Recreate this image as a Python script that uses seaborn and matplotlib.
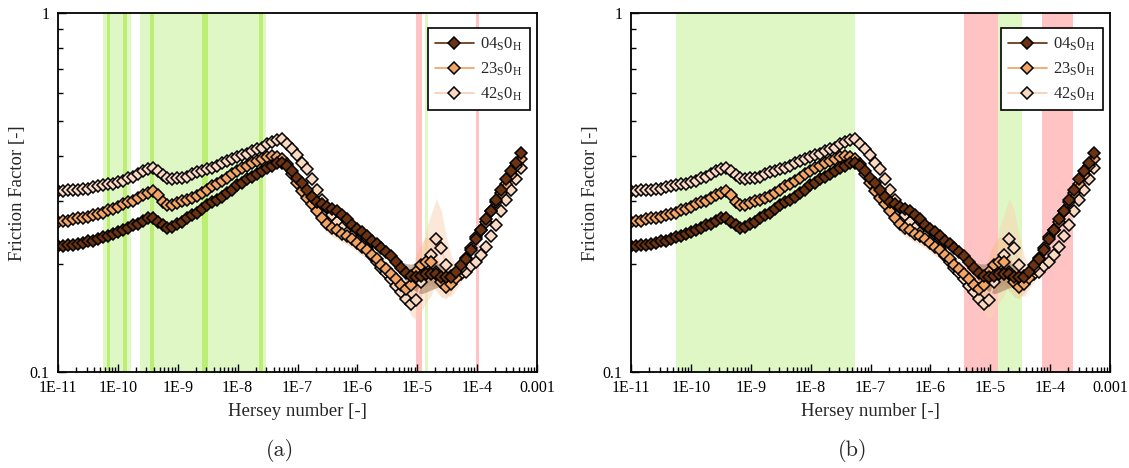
import numpy as np
import matplotlib
matplotlib.use("Agg")
import matplotlib.pyplot as plt
from matplotlib.ticker import FixedLocator, FixedFormatter, LogLocator, NullFormatter
import seaborn as sns

# Hersey number grid (log-spaced measurement points)
hersey = np.logspace(-11, -3.27, 94)

# Friction factor per sample
ff_04 = [0.225, 0.225, 0.226, 0.226, 0.228, 0.229, 0.231, 0.232, 0.235, 0.237,
         0.240, 0.243, 0.246, 0.249, 0.252, 0.256, 0.259, 0.264, 0.268, 0.268,
         0.262, 0.256, 0.252, 0.254, 0.259, 0.262, 0.268, 0.273, 0.278, 0.284,
         0.291, 0.297, 0.302, 0.308, 0.316, 0.322, 0.331, 0.337, 0.344, 0.350,
         0.357, 0.364, 0.371, 0.376, 0.381, 0.383, 0.374, 0.362, 0.348, 0.337,
         0.322, 0.308, 0.297, 0.293, 0.289, 0.284, 0.280, 0.273, 0.266, 0.256,
         0.251, 0.246, 0.239, 0.232, 0.228, 0.222, 0.216, 0.210, 0.202, 0.195,
         0.189, 0.185, 0.184, 0.185, 0.187, 0.188, 0.187, 0.184, 0.184, 0.184,
         0.190, 0.198, 0.207, 0.218, 0.234, 0.249, 0.266, 0.280, 0.302, 0.322,
         0.344, 0.362, 0.383, 0.407]

ff_23 = [0.262, 0.264, 0.264, 0.266, 0.268, 0.269, 0.271, 0.273, 0.276, 0.278,
         0.282, 0.285, 0.289, 0.293, 0.297, 0.300, 0.306, 0.312, 0.316, 0.320,
         0.312, 0.297, 0.291, 0.291, 0.295, 0.299, 0.302, 0.306, 0.310, 0.316,
         0.322, 0.329, 0.335, 0.341, 0.348, 0.355, 0.362, 0.369, 0.374, 0.381,
         0.386, 0.391, 0.396, 0.399, 0.396, 0.391, 0.379, 0.355, 0.337, 0.320,
         0.306, 0.293, 0.280, 0.268, 0.259, 0.252, 0.248, 0.243, 0.239, 0.234,
         0.229, 0.223, 0.219, 0.212, 0.206, 0.199, 0.193, 0.187, 0.181, 0.175,
         0.170, 0.175, 0.190, 0.199, 0.203, 0.203, 0.190, 0.178, 0.173, 0.176,
         0.183, 0.195, 0.208, 0.222, 0.237, 0.249, 0.262, 0.280, 0.297, 0.316,
         0.333, 0.353, 0.374, 0.391]

ff_42 = [0.320, 0.320, 0.322, 0.322, 0.322, 0.324, 0.324, 0.327, 0.329, 0.331,
         0.333, 0.335, 0.339, 0.341, 0.346, 0.350, 0.355, 0.362, 0.367, 0.371,
         0.364, 0.353, 0.346, 0.344, 0.346, 0.348, 0.350, 0.355, 0.360, 0.362,
         0.367, 0.371, 0.376, 0.381, 0.386, 0.391, 0.396, 0.401, 0.406, 0.412,
         0.417, 0.422, 0.431, 0.436, 0.442, 0.445, 0.431, 0.417, 0.401, 0.383,
         0.367, 0.344, 0.322, 0.302, 0.287, 0.273, 0.262, 0.252, 0.244, 0.239,
         0.232, 0.226, 0.221, 0.211, 0.202, 0.195, 0.189, 0.182, 0.174, 0.167,
         0.160, 0.155, 0.159, 0.178, 0.199, 0.212, 0.234, 0.222, 0.198, 0.185,
         0.184, 0.187, 0.190, 0.197, 0.203, 0.212, 0.223, 0.239, 0.257, 0.280,
         0.302, 0.322, 0.344, 0.371]

# Multiplicative spread of the repeat measurements (band = value / s .. value * s)
spread_04 = ([1.032] * 19 + [1.020] * 27 + [1.026] * 23 +
             [1.04, 1.06, 1.08, 1.10, 1.12, 1.12, 1.11, 1.09, 1.06, 1.04] +
             [1.020] * 15)
spread_23 = ([1.020] * 46 + [1.055] * 23 +
             [1.05, 1.06, 1.08, 1.12, 1.15, 1.17, 1.16, 1.13, 1.10, 1.08, 1.06] +
             [1.030] * 14)
spread_42 = ([1.015] * 46 + [1.030] * 23 +
             [1.04, 1.05, 1.08, 1.14, 1.21, 1.27, 1.30, 1.30, 1.27, 1.21, 1.14, 1.08, 1.05] +
             [1.020] * 12)

# Highlighted Hersey ranges
spans_a_green = [(5.6e-11, 1.65e-10), (2.33e-10, 2.93e-8), (1.36e-5, 1.52e-5)]
spans_a_green_dark = [(6.6e-11, 7.4e-11), (1.21e-10, 1.41e-10), (3.41e-10, 3.98e-10),
                      (2.51e-9, 3.16e-9), (2.24e-8, 2.61e-8)]
spans_a_red = [(9.6e-6, 1.21e-5), (9.6e-5, 1.08e-4)]
spans_b_green = [(5.6e-11, 5.6e-8), (1.36e-5, 3.4e-5)]
spans_b_red = [(3.7e-6, 1.36e-5), (7.4e-5, 2.4e-4)]

x_ticks = [1e-11, 1e-10, 1e-9, 1e-8, 1e-7, 1e-6, 1e-5, 1e-4, 1e-3]
x_tick_labels = ["1E-11", "1E-10", "1E-9", "1E-8", "1E-7", "1E-6", "1E-5", "1E-4", "0.001"]
y_ticks = [0.1, 1.0]
y_tick_labels = ["0.1", "1"]

series = [
    (r"04$_{\rm S}$0$_{\rm H}$", ff_04, spread_04, "#6b3311", "#5c2c0e", "#8a6040", 0.45),
    (r"23$_{\rm S}$0$_{\rm H}$", ff_23, spread_23, "#f2a465", "#f0a060", "#f7b27a", 0.35),
    (r"42$_{\rm S}$0$_{\rm H}$", ff_42, spread_42, "#fbd9c0", "#f9cdb2", "#fbd3b4", 0.5),
]

sns.set_theme(style="white")
plt.rcParams["font.family"] = ["Liberation Serif", "DejaVu Serif"]
plt.rcParams["mathtext.fontset"] = "custom"
plt.rcParams["mathtext.rm"] = "Liberation Serif"
plt.rcParams["mathtext.it"] = "Liberation Serif:italic"

fig = plt.figure(figsize=(11.29, 4.68), dpi=100)
ax_a = fig.add_axes([58 / 1129, 96 / 468, 479 / 1129, 359 / 468])
ax_b = fig.add_axes([631 / 1129, 96 / 468, 479 / 1129, 359 / 468])

GREEN = "#dff7c4"
GREEN_DARK = "#bdee74"
RED = "#ffc3c3"


def draw_panel(ax, green, green_dark, red):
    for lo, hi in green:
        ax.axvspan(lo, hi, color=GREEN, lw=0, zorder=0)
    for lo, hi in green_dark:
        ax.axvspan(lo, hi, color=GREEN_DARK, lw=0, zorder=0.5)
    for lo, hi in red:
        ax.axvspan(lo, hi, color=RED, lw=0, zorder=0)

    x = hersey
    for lab, vals, spr, face, line, band, alpha in reversed(series):
        v = np.asarray(vals)
        s = np.asarray(spr)
        ax.fill_between(x, v / s, v * s, color=band, alpha=alpha, lw=0, zorder=1)
    for k, (lab, vals, spr, face, line, band, alpha) in enumerate(reversed(series)):
        sns.lineplot(x=x, y=vals, ax=ax, color=line, lw=1.2, marker="D",
                     markersize=6.0, markerfacecolor=face, markeredgecolor="black",
                     markeredgewidth=1.1, label=lab, zorder=3 + k, sort=False)

    ax.set_xscale("log")
    ax.set_yscale("log")
    ax.set_xlim(1e-11, 1e-3)
    ax.set_ylim(0.1, 1.0)

    ax.xaxis.set_major_locator(FixedLocator(x_ticks))
    ax.xaxis.set_major_formatter(FixedFormatter(x_tick_labels))
    ax.xaxis.set_minor_locator(LogLocator(base=10, subs=np.arange(2, 10), numticks=100))
    ax.xaxis.set_minor_formatter(NullFormatter())
    ax.yaxis.set_major_locator(FixedLocator(y_ticks))
    ax.yaxis.set_major_formatter(FixedFormatter(y_tick_labels))
    ax.yaxis.set_minor_locator(LogLocator(base=10, subs=np.arange(2, 10), numticks=100))
    ax.yaxis.set_minor_formatter(NullFormatter())

    ax.tick_params(which="both", direction="in", bottom=True, left=True, top=False,
                   right=False, colors="black", labelsize=11.5, width=1.0)
    ax.tick_params(which="major", length=6, pad=6)
    ax.tick_params(which="minor", length=3.5)
    for sp in ax.spines.values():
        sp.set_color("black")
        sp.set_linewidth(1.3)
        sp.set_visible(True)
        sp.set_zorder(10)

    ax.set_xlabel("")
    ax.set_ylabel("")

    handles, labels = ax.get_legend_handles_labels()
    order = [labels.index(s[0]) for s in series]
    leg = ax.legend([handles[i] for i in order], [labels[i] for i in order],
                    loc="upper right", bbox_to_anchor=(0.985, 0.958),
                    borderaxespad=0, frameon=True, fancybox=False, framealpha=1,
                    edgecolor="black", fontsize=12, handlelength=2.3,
                    labelspacing=0.45, borderpad=0.45, handletextpad=0.4)
    leg.get_frame().set_linewidth(1.2)
    leg.set_zorder(20)


draw_panel(ax_a, spans_a_green, spans_a_green_dark, spans_a_red)
draw_panel(ax_b, spans_b_green, [], spans_b_red)

for x_lab, x_cap, x_ylab, cap in [(297, 280, 18, "(a)"), (870, 853, 591, "(b)")]:
    fig.text(x_lab / 1129, 1 - 412 / 468, "Hersey number [-]", ha="center", va="center",
             fontsize=13.5)
    fig.text(x_ylab / 1129, 1 - 193 / 468, "Friction Factor [-]", ha="center",
             va="center", rotation=90, fontsize=13.5)
    fig.text(x_cap / 1129, 1 - 450 / 468, cap, ha="center", va="center", fontsize=16,
             family=["cmr10", "DejaVu Serif"])

fig.savefig("out.png", dpi=100, facecolor="white")
